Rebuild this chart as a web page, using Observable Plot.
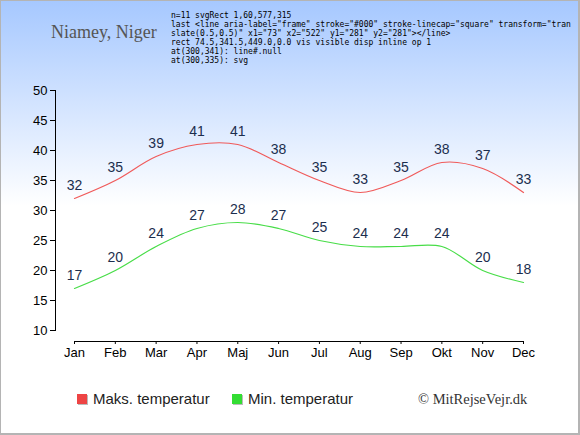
<!DOCTYPE html>
<html>
<head>
<meta charset="utf-8">
<script src="https://cdn.jsdelivr.net/npm/d3@7"></script>
<script src="https://cdn.jsdelivr.net/npm/@observablehq/plot@0.6"></script>
<style>
  html, body { margin: 0; padding: 0; background: #fff; }
  #chart {
    position: relative;
    width: 580px; height: 435px;
    box-sizing: border-box;
    border-style: solid; border-color: #b4b4b4;
    border-width: 1px 2px 2px 1px;
    background: linear-gradient(to bottom, #a6c8ff 0px, #ffffff 205px, #ffffff 100%);
    overflow: hidden;
  }
  #title {
    height: 59px; box-sizing: border-box;
    padding: 22px 0 0 50px;
    font-family: "Liberation Serif", "Times New Roman", serif;
    font-size: 18px; line-height: 18px; color: #555;
  }
  #plot { position: relative; z-index: 2; height: 315px; }
  #plot svg { display: block; }
  #legend { height: 58px; font-family: "Liberation Sans", Arial, sans-serif; }
  .sw { position: absolute; width: 10px; height: 10px; top: 393px; box-shadow: 1px 1px 0 #bbb; }
  .lt { position: absolute; top: 389px; font-size: 15px; line-height: 18px; color: #222; font-family: "Liberation Sans", Arial, sans-serif; }
  #copy { position: absolute; left: 417px; top: 389px; font-family: "Liberation Serif", "Times New Roman", serif; font-size: 14.5px; line-height: 18px; color: #333; }
  #dbg { position: absolute; left: 170px; top: 2px; width: 400px; font: 8px monospace; white-space: pre-wrap; word-break: break-all; color: #000; z-index: 5; }
</style>
</head>
<body>
<div id="chart">
  <div id="title">Niamey, Niger</div>
  <div id="plot"></div>
  <div id="legend">
    <div class="sw" style="left:76px; background:#ee4444;"></div>
    <div class="lt" style="left:92px;">Maks. temperatur</div>
    <div class="sw" style="left:231px; background:#33dd33;"></div>
    <div class="lt" style="left:247px;">Min. temperatur</div>
    <div id="copy">© MitRejseVejr.dk</div>
  </div>
  <pre id="dbg"></pre>
</div>
<script>
const months = ["Jan","Feb","Mar","Apr","Maj","Jun","Jul","Aug","Sep","Okt","Nov","Dec"];
const maxTemp = [32,35,39,41,41,38,35,33,35,38,37,33];
const minTemp = [17,20,24,27,28,27,25,24,24,24,20,18];
const yTicks = [10,15,20,25,30,35,40,45,50];

const rows = months.map((m, i) => ({month: m, max: maxTemp[i], min: minTemp[i]}));

const chart = Plot.plot({
  width: 577,
  height: 315,
  marginLeft: 54,
  marginRight: 55,
  marginTop: 30,
  marginBottom: 34,
  style: {background: "transparent", fontFamily: "'Liberation Sans', Arial, sans-serif", fontSize: "13px", color: "#000", overflow: "visible"},
  x: {type: "point", domain: months, range: [73, 522], padding: 0, round: false},
  y: {domain: [10, 50], range: [270, 30]},
  marks: [
    Plot.line(rows, {x: "month", y: "max", curve: "catmull-rom", stroke: "#f05a5a", strokeWidth: 1.2}),
    Plot.line(rows, {x: "month", y: "min", curve: "catmull-rom", stroke: "#48dd48", strokeWidth: 1.2}),
    Plot.text(rows, {x: "month", y: "max", text: d => String(d.max), dy: -13, fill: "#1c2e4e", fontSize: 14}),
    Plot.text(rows, {x: "month", y: "min", text: d => String(d.min), dy: -13, fill: "#1c2e4e", fontSize: 14}),
    Plot.axisY({ticks: yTicks, tickSize: 5, tickPadding: 3, label: null}),
    Plot.axisX({tickSize: 3, tickPadding: 3, label: null, stroke: "#000"}),
    Plot.frame({anchor: "left", insetBottom: 11, stroke: "#000"}),
    Plot.frame({anchor: "bottom", insetLeft: 19, stroke: "#000"})
  ]
});
document.getElementById("plot").appendChild(chart);
const kids = [...chart.children];
const last = kids[kids.length - 1];
const r = last.getBoundingClientRect();
const sr = chart.getBoundingClientRect();
const el = document.elementFromPoint(300, 341);
const cs = getComputedStyle(last);
let out = "n=" + kids.length + " svgRect " + [sr.x, sr.y, sr.width, sr.height].map(Math.round).join(",") +
  "\nlast " + last.outerHTML.slice(0, 160) + "\nrect " + [r.x, r.y, r.width, r.height].map(v => v.toFixed(1)).join(",") +
  " vis " + cs.visibility + " disp " + cs.display + " op " + cs.opacity +
  "\nat(300,341): " + (el ? el.tagName + "#" + el.id + "." + el.getAttribute("class") : "none") +
  "\nat(300,335): " + (document.elementFromPoint(300,335) || {}).tagName;
document.getElementById("dbg").textContent = out;
</script>
</body>
</html>
